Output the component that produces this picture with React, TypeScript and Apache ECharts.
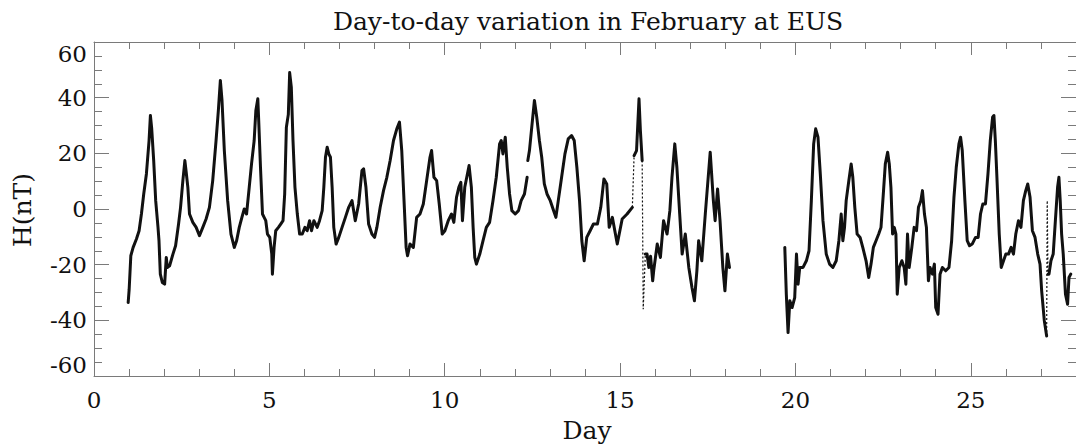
import React, { useEffect, useRef } from "react";
import * as echarts from "echarts";

// Horizontal-component (H) magnetic variation at EUS, February.
// Dense recording pieces; between some pieces the record is missing (gap),
// between others only sparse samples exist (drawn as a thin link).
const pieceADays = [
  0.974, 1.002, 1.05, 1.116, 1.21, 1.286, 1.352, 1.418, 1.494, 1.57, 1.608, 1.645, 1.702, 1.759, 1.825,
  1.853, 1.891, 1.948, 2.014, 2.061, 2.09, 2.156, 2.251, 2.326, 2.411, 2.468, 2.534, 2.591, 2.629, 2.676,
  2.723, 2.818, 2.913, 3.007, 3.102, 3.196, 3.291, 3.385, 3.48, 3.546, 3.603, 3.65, 3.716, 3.811, 3.905,
  4.0, 4.066, 4.142, 4.217, 4.284, 4.35, 4.426, 4.492, 4.567, 4.615, 4.671, 4.7, 4.747, 4.804, 4.851,
  4.898, 4.946, 5.012, 5.069, 5.087, 5.135, 5.182, 5.258, 5.324, 5.39, 5.437, 5.485, 5.541, 5.579, 5.626,
  5.674, 5.73, 5.797, 5.863, 5.939, 6.014, 6.08, 6.147, 6.203, 6.27, 6.364, 6.43, 6.506, 6.553, 6.6,
  6.648, 6.695, 6.742, 6.79, 6.837, 6.903, 6.979, 7.073, 7.168, 7.262, 7.357, 7.45, 7.546, 7.64, 7.688,
  7.754, 7.83, 7.924, 8.0, 8.066, 8.16, 8.255, 8.35, 8.444, 8.54, 8.634, 8.71, 8.775, 8.84, 8.9,
  8.94, 9.01, 9.106, 9.2, 9.295, 9.39, 9.485, 9.58, 9.626, 9.693, 9.77, 9.844, 9.929, 10.005, 10.1,
  10.194, 10.26, 10.336, 10.402, 10.46, 10.506, 10.572, 10.647, 10.695, 10.76, 10.81, 10.857, 10.905, 11.0, 11.093,
  11.187, 11.28, 11.376, 11.47, 11.565, 11.612, 11.66, 11.726, 11.783, 11.849, 11.915, 12.01, 12.104, 12.18, 12.274,
  12.35,
];
const pieceAH = [
  -33.6, -29, -16.8, -13.8, -10.8, -7.8, -1.8, 5.4, 12.6, 24.6, 33.6, 29, 17.4, 3, -6.6,
  -11.4, -23.4, -26.4, -27, -17.4, -21, -20.4, -16.2, -13.2, -5.4, 0.6, 10.2, 17.4, 13.2, 7.8,
  -1.8, -4.8, -6.6, -9.6, -6.6, -3.6, 0.6, 10.2, 24.6, 35.4, 46.2, 39, 21, 3, -9,
  -13.8, -11.4, -6.6, -3, 0, -1.8, 7.8, 16.2, 24.6, 35.4, 39.6, 30.6, 15, -1.8, -3,
  -4.2, -9, -10.2, -16.2, -23.4, -13.8, -7.8, -6.6, -5.4, -4.2, 5.4, 29.4, 34, 49, 43.8,
  24.6, 7.8, -1.8, -9, -9, -6.6, -7.8, -4.2, -7.8, -4.2, -6.6, -4.2, -0.6, 7.8, 18.6,
  22.2, 19.8, 18.6, 7.8, -6.6, -12.6, -10.2, -6.6, -3, 0.6, 3, -4.2, 1.8, 13.8, 14.4,
  7.8, -5.4, -9, -10.2, -6.6, 0.6, 6.6, 11.4, 17.4, 24.6, 28.8, 31.2, 21, 3, -13.8,
  -16.8, -12.6, -13.8, -3, -1.8, 1.8, 10.2, 18.6, 21, 11.4, 10.2, 1.8, -9, -7.8, -4.2,
  -1.8, -4.8, 4.2, 7.8, 9.6, -4.2, 7.8, 12.6, 15.6, 7.8, -6.6, -17.4, -19.8, -16.2, -11.4,
  -6.6, -4.8, 3, 11.4, 23.4, 24.6, 19.8, 25.8, 15, 5.4, -0.6, -1.8, -0.6, 3, 5.4,
  11.4,
];

const pieceBDays = [
  12.37, 12.416, 12.482, 12.558, 12.624, 12.7, 12.766, 12.84, 12.917, 13.01, 13.106, 13.17, 13.238, 13.333, 13.428,
  13.522, 13.617, 13.693, 13.768, 13.844, 13.91, 13.976, 14.05, 14.146, 14.24, 14.355, 14.45, 14.54, 14.62, 14.69,
  14.78, 14.85, 14.92, 15.06, 15.2, 15.35,
];
const pieceBH = [
  17.4, 21, 29.4, 39, 33, 24.6, 18.6, 9, 5.4, 3, -0.6, -3, 3, 11.4, 19.8,
  25.2, 26.4, 24.6, 15, 3, -11.4, -18.6, -10.2, -7.8, -5.4, -5.4, 0.6, 10.8, 9, -6.6,
  -3, -7.8, -12.6, -3.6, -1.8, 0.6,
];

const pieceCDays = [15.4, 15.47, 15.54, 15.58, 15.63];
const pieceCH = [19.2, 21, 39.6, 28, 17.4];

const pieceDDays = [
  15.72, 15.77, 15.82, 15.87, 15.93, 15.96, 16.06, 16.15, 16.24, 16.34, 16.42, 16.48, 16.56, 16.62, 16.7,
  16.77, 16.86, 16.96, 17.05, 17.12, 17.19, 17.24, 17.33, 17.43, 17.57, 17.66, 17.71, 17.78, 17.85, 17.93,
  17.99, 18.06, 18.12,
];
const pieceDH = [
  -16.2, -16.2, -21, -17, -25.8, -22, -12.6, -17.4, -4.2, -9, -0.6, 11.4, 23.4, 15, -1.8,
  -16.2, -9, -21, -28.2, -33, -22.2, -11.4, -18.6, -1.8, 20.4, 3, -4.2, 7.2, -4.2, -21,
  -29.4, -16.2, -21,
];

const pieceEDays = [
  19.697, 19.74, 19.79, 19.84, 19.905, 19.98, 20.03, 20.076, 20.123, 20.217, 20.312, 20.388, 20.454, 20.52, 20.577,
  20.643, 20.709, 20.785, 20.879, 20.974, 21.069, 21.163, 21.239, 21.305, 21.352, 21.4, 21.447, 21.523, 21.589, 21.636,
  21.693, 21.759, 21.844, 21.92, 22.014, 22.09, 22.156, 22.222, 22.298, 22.374, 22.44, 22.506, 22.563, 22.629, 22.676,
  22.723, 22.77, 22.818, 22.865, 22.903, 22.96, 23.035, 23.1, 23.149, 23.196, 23.243, 23.319, 23.385, 23.452, 23.508,
  23.575, 23.622, 23.679, 23.735, 23.792, 23.839, 23.905, 23.962, 24.0, 24.066, 24.123, 24.19, 24.284, 24.378, 24.454,
  24.52, 24.586, 24.662, 24.709, 24.757, 24.832, 24.898, 24.965, 25.04, 25.135, 25.21, 25.277, 25.343, 25.418, 25.49,
  25.556, 25.622, 25.66, 25.7, 25.745, 25.811, 25.868, 25.934, 26.0, 26.076, 26.15, 26.217, 26.283, 26.359, 26.43,
  26.5, 26.567, 26.624, 26.69, 26.757, 26.832, 26.908, 26.974, 27.021, 27.097, 27.163,
];
const pieceEH = [
  -13.8, -30.6, -44.4, -33, -35.4, -31.8, -16.2, -27, -21, -21, -18.6, -15, 3, 23.4, 28.8,
  25.8, 12.6, -4.2, -16.2, -19.8, -21, -18.6, -11.4, -1.8, -11.4, -6.6, 3, 10.2, 16.2, 11.4,
  0.6, -9, -10.2, -13.8, -18.6, -24.6, -19.8, -13.8, -11.4, -9, -6.6, 5.4, 16.2, 20.4, 16.2,
  7.8, -9, -6.6, -9, -30.6, -21, -18.6, -21, -27, -9, -21, -13.8, -6.6, -7.8, 0.6,
  3, 6.6, -1.8, -6.6, -25.8, -21, -23.4, -19.8, -35.4, -37.8, -23.4, -21, -22.2, -21, -11.4,
  4.2, 15, 23.4, 25.8, 21, 3, -11.4, -13.2, -12.6, -10.2, -10.2, -1.8, 1.8, 1.8, 12.6,
  24.6, 33, 33.6, 24.6, 11.4, -9, -21, -18.6, -16.2, -16.2, -13.8, -16.2, -9, -4.2, -6.6,
  3, 6.6, 9, 4.2, -7.8, -10.2, -16.2, -19.8, -29.4, -40.2, -45.6,
];

const pieceFDays = [27.2, 27.23, 27.286, 27.35, 27.418, 27.475, 27.513, 27.55, 27.59, 27.636, 27.7, 27.76, 27.8, 27.85];
const pieceFH = [-23.4, -23.4, -18.6, -16.2, -3, 7.8, 11.4, 3, -9, -16.2, -30.6, -34.2, -24.6, -23.4];

// Isolated sparse samples that sit inside a thin link.
const sparseDays = [15.66, 27.18];
const sparseH = [-36, 3];

const pieces = [
  [pieceADays, pieceAH],
  [pieceBDays, pieceBH],
  [pieceCDays, pieceCH],
  [pieceDDays, pieceDH],
  [pieceEDays, pieceEH],
  [pieceFDays, pieceFH],
];
// How each piece connects to the next one.
const joins = ["gap", "thin", "sparse", "gap", "sparse"];

const xTickDays = { min: 0, max: 28, step: 5 };
const yTickH = { min: -60, max: 60, step: 20 };

const FONT = "'DejaVu Serif', serif";
const INK = "#111111";
const FRAME = "#7a7a7a";

function buildDense() {
  const out: (number | null)[][] = [];
  pieces.forEach(([d, h], i) => {
    if (i > 0) {
      const prev = pieces[i - 1][0];
      out.push([(prev[prev.length - 1] + d[0]) / 2, null]);
    }
    d.forEach((day, k) => out.push([day, h[k]]));
  });
  return out;
}

function buildThin() {
  const out: (number | null)[][] = [];
  let s = 0;
  joins.forEach((kind, i) => {
    if (kind === "gap") return;
    const [ad, ah] = pieces[i];
    const [bd, bh] = pieces[i + 1];
    if (out.length) out.push([ad[ad.length - 1] - 0.001, null]);
    out.push([ad[ad.length - 1], ah[ah.length - 1]]);
    if (kind === "sparse") {
      out.push([sparseDays[s], sparseH[s]]);
      s += 1;
    }
    out.push([bd[0], bh[0]]);
  });
  return out;
}

export default function App() {
  const ref = useRef<HTMLDivElement>(null);

  useEffect(() => {
    if (!ref.current) return;
    const chart = echarts.init(ref.current, undefined, { renderer: "svg" });

    const frameAxis = (extra: any) => ({
      type: "value",
      splitLine: { show: false },
      axisLine: { show: true, onZero: false, lineStyle: { color: FRAME, width: 1 } },
      ...extra,
    });

    const textStyle = (text: string) => ({
      text,
      fontSize: 25,
      fontFamily: FONT,
      fill: INK,
      align: "center",
      verticalAlign: "middle",
      textAlign: "center",
      textVerticalAlign: "middle",
    });

    chart.setOption({
      animation: false,
      backgroundColor: "#ffffff",
      grid: { left: 94, top: 42, width: 987, height: 334 },
      xAxis: [
        frameAxis({
          position: "bottom",
          min: xTickDays.min,
          max: xTickDays.max,
          interval: xTickDays.step,
          axisTick: { show: true, inside: true, length: 13, lineStyle: { color: FRAME } },
          minorTick: { show: true, splitNumber: 5, length: 7, lineStyle: { color: FRAME } },
          axisLabel: {
            show: true,
            margin: 12,
            fontSize: 23,
            fontFamily: FONT,
            color: INK,
            showMaxLabel: false,
          },
        }),
        frameAxis({
          position: "top",
          min: xTickDays.min,
          max: xTickDays.max,
          interval: xTickDays.step,
          axisTick: { show: true, inside: true, length: 13, lineStyle: { color: FRAME } },
          minorTick: { show: true, splitNumber: 5, length: 7, lineStyle: { color: FRAME } },
          axisLabel: { show: false },
        }),
      ],
      yAxis: [
        frameAxis({
          position: "left",
          min: yTickH.min,
          max: yTickH.max,
          interval: yTickH.step,
          axisTick: { show: true, inside: true, length: 15, lineStyle: { color: FRAME } },
          minorTick: { show: true, splitNumber: 4, length: 8, lineStyle: { color: FRAME } },
          axisLabel: {
            show: true,
            margin: 7,
            fontSize: 23,
            fontFamily: FONT,
            color: INK,
            verticalAlignMaxLabel: "top",
            verticalAlignMinLabel: "bottom",
          },
        }),
        frameAxis({
          position: "right",
          min: yTickH.min,
          max: yTickH.max,
          interval: yTickH.step,
          axisTick: { show: true, inside: true, length: 15, lineStyle: { color: FRAME } },
          minorTick: { show: true, splitNumber: 4, length: 8, lineStyle: { color: FRAME } },
          axisLabel: { show: false },
        }),
      ],
      series: [
        {
          type: "line",
          name: "sparse",
          data: buildThin(),
          showSymbol: false,
          connectNulls: false,
          clip: true,
          lineStyle: { color: INK, width: 1.2, type: [2, 2] },
          emphasis: { disabled: true },
        },
        {
          type: "line",
          name: "H",
          data: buildDense(),
          showSymbol: false,
          connectNulls: false,
          clip: true,
          lineStyle: { color: INK, width: 3, join: "round", cap: "round" },
          emphasis: { disabled: true },
        },
      ],
      graphic: [
        { type: "text", x: 588, y: 21, style: textStyle("Day-to-day variation in February at EUS") },
        { type: "text", x: 587, y: 430, style: textStyle("Day") },
        { type: "text", x: 22, y: 210, rotation: Math.PI / 2, style: textStyle("H(nT)") },
      ],
    });

    return () => chart.dispose();
  }, []);

  return (
    <div
      ref={ref}
      style={{ position: "absolute", left: 0, top: 0, width: 1076, height: 448, background: "#fff" }}
    />
  );
}
